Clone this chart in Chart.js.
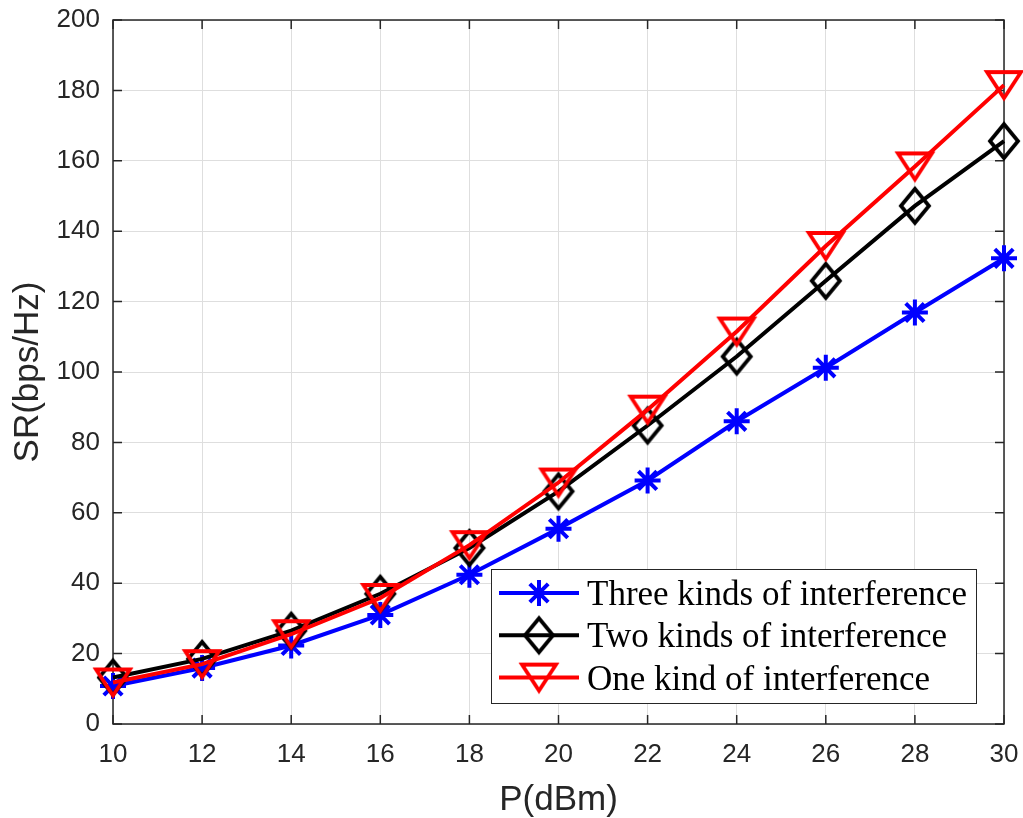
<!DOCTYPE html>
<html><head><meta charset="utf-8">
<script src="https://cdn.jsdelivr.net/npm/chart.js@4/dist/chart.umd.min.js"></script>
<style>html,body{margin:0;padding:0;background:#fff}</style>
</head><body>
<canvas id="c" width="1023" height="818"></canvas>
<script>
// ---- data ----
const powerDbm = [10, 12, 14, 16, 18, 20, 22, 24, 26, 28, 30];
const threeKinds = [10.8, 15.9, 22.3, 31.0, 42.4, 55.5, 69.2, 86.0, 101.2, 116.9, 132.3];
const twoKinds   = [13.2, 18.5, 26.5, 37.0, 50.0, 66.1, 84.8, 104.4, 125.9, 147.2, 165.6];
const oneKind    = [11.8, 17.0, 25.5, 35.8, 50.8, 68.6, 89.3, 111.5, 135.8, 158.4, 181.5];
const seriesLabels = ['Three kinds of interference', 'Two kinds of interference', 'One kind of interference'];
const xAxisTitle = 'P(dBm)';
const yAxisTitle = 'SR(bps/Hz)';
const xRange = [10, 30], xStep = 2;
const yRange = [0, 200], yStep = 20;

// ---- marker images (hollow, MATLAB-like) ----
function makeTriangle(color) {
  const c = document.createElement('canvas'); c.width = 44; c.height = 38;
  const g = c.getContext('2d');
  g.strokeStyle = color; g.lineWidth = 3.8; g.lineJoin = 'miter';
  g.beginPath(); g.moveTo(5, 6); g.lineTo(39, 6); g.lineTo(22, 32); g.closePath(); g.stroke();
  return c;
}
function makeDiamond(color) {
  const c = document.createElement('canvas'); c.width = 40; c.height = 46;
  const g = c.getContext('2d');
  g.strokeStyle = color; g.lineWidth = 3.8; g.lineJoin = 'miter';
  g.beginPath(); g.moveTo(20, 6); g.lineTo(34, 23); g.lineTo(20, 40); g.lineTo(6, 23); g.closePath(); g.stroke();
  return c;
}
const triRed = makeTriangle('#ff0000');
const diaBlack = makeDiamond('#000000');

const toPts = arr => powerDbm.map((x, i) => ({x: x, y: arr[i]}));
const tickFont = {family: '"Liberation Sans", Arial, sans-serif', size: 26, lineHeight: 1};
const titleFont = {family: '"Liberation Sans", Arial, sans-serif', size: 35, lineHeight: 1};
const axisColor = '#262626';

const axesBox = {
  id: 'axesBox',
  beforeDatasetsDraw(chart) {
    const {ctx, chartArea: a, scales: {x, y}} = chart;
    ctx.save();
    ctx.strokeStyle = axisColor; ctx.lineWidth = 1.5;
    ctx.strokeRect(a.left, a.top, a.right - a.left, a.bottom - a.top);
    const L = 9;
    ctx.beginPath();
    x.ticks.forEach(t => { const p = x.getPixelForValue(t.value);
      ctx.moveTo(p, a.bottom); ctx.lineTo(p, a.bottom - L);
      ctx.moveTo(p, a.top); ctx.lineTo(p, a.top + L); });
    y.ticks.forEach(t => { const p = y.getPixelForValue(t.value);
      ctx.moveTo(a.left, p); ctx.lineTo(a.left + L, p);
      ctx.moveTo(a.right, p); ctx.lineTo(a.right - L, p); });
    ctx.stroke();
    ctx.restore();
  }
};

const boxLegend = {
  id: 'boxLegend',
  afterDraw(chart) {
    const {ctx, chartArea: a} = chart;
    const w = 485, h = 134;
    const left = a.right - 28 - w, top = a.bottom - 21 - h;
    ctx.save();
    ctx.fillStyle = '#ffffff';
    ctx.fillRect(left, top, w, h);
    ctx.strokeStyle = axisColor; ctx.lineWidth = 1;
    ctx.strokeRect(left + 0.5, top + 0.5, w, h);
    ctx.font = '35px "Liberation Serif", "Times New Roman", serif';
    ctx.textBaseline = 'alphabetic';
    chart.data.datasets.forEach((ds, i) => {
      const yy = top + 24 + i * 42.3;
      ctx.strokeStyle = ds.borderColor; ctx.lineWidth = ds.borderWidth;
      ctx.beginPath(); ctx.moveTo(left + 8, yy); ctx.lineTo(left + 88, yy); ctx.stroke();
      Chart.helpers.drawPoint(ctx, {pointStyle: ds.pointStyle, radius: ds.pointRadius, rotation: 0, borderWidth: ds.pointBorderWidth}, left + 48, yy);
      ctx.fillStyle = '#000000';
      ctx.fillText(ds.label, left + 96, yy + 12);
    });
    ctx.restore();
  }
};

new Chart(document.getElementById('c'), {
  type: 'line',
  data: {
    datasets: [
      {label: seriesLabels[0], data: toPts(threeKinds), borderColor: '#0000ff', backgroundColor: '#0000ff',
       borderWidth: 4, pointStyle: 'star', pointRadius: 13, pointHoverRadius: 13, pointBorderWidth: 4,
       pointBorderColor: '#0000ff', order: 2, clip: false, tension: 0, fill: false},
      {label: seriesLabels[1], data: toPts(twoKinds), borderColor: '#000000', backgroundColor: 'transparent',
       borderWidth: 4, pointStyle: diaBlack, pointRadius: 16, pointHoverRadius: 16, pointBorderWidth: 4,
       order: 1, clip: false, tension: 0, fill: false},
      {label: seriesLabels[2], data: toPts(oneKind), borderColor: '#ff0000', backgroundColor: 'transparent',
       borderWidth: 4, pointStyle: triRed, pointRadius: 18, pointHoverRadius: 18, pointBorderWidth: 4,
       order: 0, clip: false, tension: 0, fill: false}
    ]
  },
  options: {
    responsive: false,
    animation: false,
    events: [],
    layout: {autoPadding: false, padding: {left: 0, right: 19, top: 20, bottom: 0}},
    plugins: {legend: {display: false}, tooltip: {enabled: false}},
    scales: {
      x: {
        type: 'linear', min: xRange[0], max: xRange[1],
        ticks: {stepSize: xStep, font: tickFont, color: axisColor, padding: 18, autoSkip: false, maxRotation: 0},
        grid: {color: '#dedede', lineWidth: 1, drawTicks: false},
        border: {display: false},
        title: {display: true, text: xAxisTitle, font: titleFont, color: axisColor, padding: {top: 0, bottom: 0}},
        afterFit: s => { s.height = 94; s.paddingLeft = 0; s.paddingRight = 0; }
      },
      y: {
        type: 'linear', min: yRange[0], max: yRange[1],
        ticks: {stepSize: yStep, font: tickFont, color: axisColor, padding: 13},
        grid: {color: '#dedede', lineWidth: 1, drawTicks: false},
        border: {display: false},
        title: {display: true, text: yAxisTitle, font: titleFont, color: axisColor, padding: {top: 11, bottom: 0}},
        afterFit: s => { s.width = 113; s.paddingTop = 0; s.paddingBottom = 0; }
      }
    }
  },
  plugins: [axesBox, boxLegend]
});
</script>
</body></html>
